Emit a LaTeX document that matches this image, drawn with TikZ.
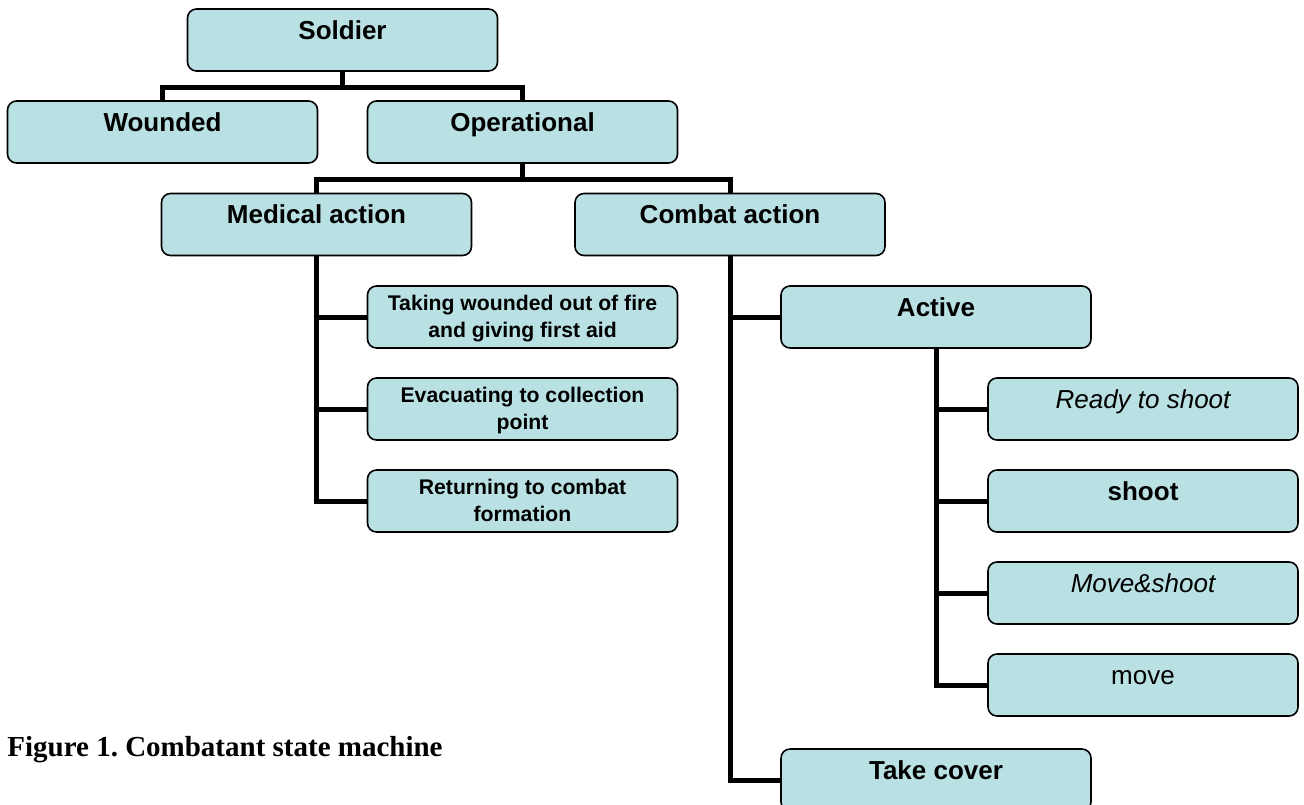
\documentclass[tikz,border=0pt]{standalone}
\usepackage{fontspec}
\setmainfont{Liberation Sans}
\newfontfamily\captionserif{Liberation Serif}
\definecolor{statefill}{RGB}{185,224,227}
\begin{document}
\begin{tikzpicture}[x=0.5pt,y=-0.5pt,
  state/.style={draw=black, line width=0.8pt, fill=statefill, rounded corners=4.5pt,
    minimum width=155pt, minimum height=31pt, inner sep=0pt,
    text height=15pt, text depth=16pt,
    font=\fontsize{13}{15.6}\selectfont\bfseries},
  substate/.style={state, text height=12pt, text depth=19pt,
    font=\fontsize{10.6}{13.5}\selectfont\bfseries},
  plain/.style={font=\fontsize{13}{15.6}\selectfont\mdseries},
  slanted/.style={font=\fontsize{13}{15.6}\selectfont\mdseries\itshape},
  link/.style={line width=2.5pt, line join=miter, line cap=butt}]
\useasboundingbox (0,0) rectangle (1304,804);

% states
\node[state] (soldier) at (342.5,40) {Soldier};
\node[state] (wounded) at (162.5,132) {Wounded};
\node[state] (operational) at (522.5,132) {Operational};
\node[state] (medical) at (316.5,224.5) {Medical action};
\node[state] (combat) at (730,224.5) {Combat action};
\node[substate] (taking) at (522.5,317) {\parbox[t]{150pt}{\centering Taking wounded out of fire\\and giving first aid}};
\node[substate] (evac) at (522.5,409) {\parbox[t]{150pt}{\centering Evacuating to collection\\point}};
\node[substate] (returning) at (522.5,501) {\parbox[t]{150pt}{\centering Returning to combat\\formation}};
\node[state] (active) at (936,317) {Active};
\node[state, slanted] (ready) at (1143,409) {Ready to shoot};
\node[state] (shoot) at (1143,501) {shoot};
\node[state, slanted] (moveshoot) at (1143,593) {Move\&shoot};
\node[state, plain] (move) at (1143,685) {move};
\node[state] (takecover) at (936,780) {Take cover};

% junction points of the tree
\coordinate (j1) at (342.5,87);
\coordinate (j2) at (522.5,179);

% connectors
\draw[link] (soldier.south) -- (j1);
\draw[link] (wounded.north) |- (j1) -| (operational.north);
\draw[link] (operational.south) -- (j2);
\draw[link] (medical.north) |- (j2) -| (combat.north);

\draw[link] (medical.south) |- (returning.west);
\draw[link] (medical.south |- taking.west) -- (taking.west);
\draw[link] (medical.south |- evac.west) -- (evac.west);

\draw[link] (combat.south) |- (takecover.west);
\draw[link] (combat.south |- active.west) -- (active.west);

\draw[link] (active.south) |- (move.west);
\draw[link] (active.south |- ready.west) -- (ready.west);
\draw[link] (active.south |- shoot.west) -- (shoot.west);
\draw[link] (active.south |- moveshoot.west) -- (moveshoot.west);

% caption
\node[anchor=base west, inner sep=0pt,
  font=\captionserif\bfseries\fontsize{14.5}{17}\selectfont] (caption) at (7,756)
  {Figure 1.\ Combatant state machine};
\end{tikzpicture}
\end{document}
